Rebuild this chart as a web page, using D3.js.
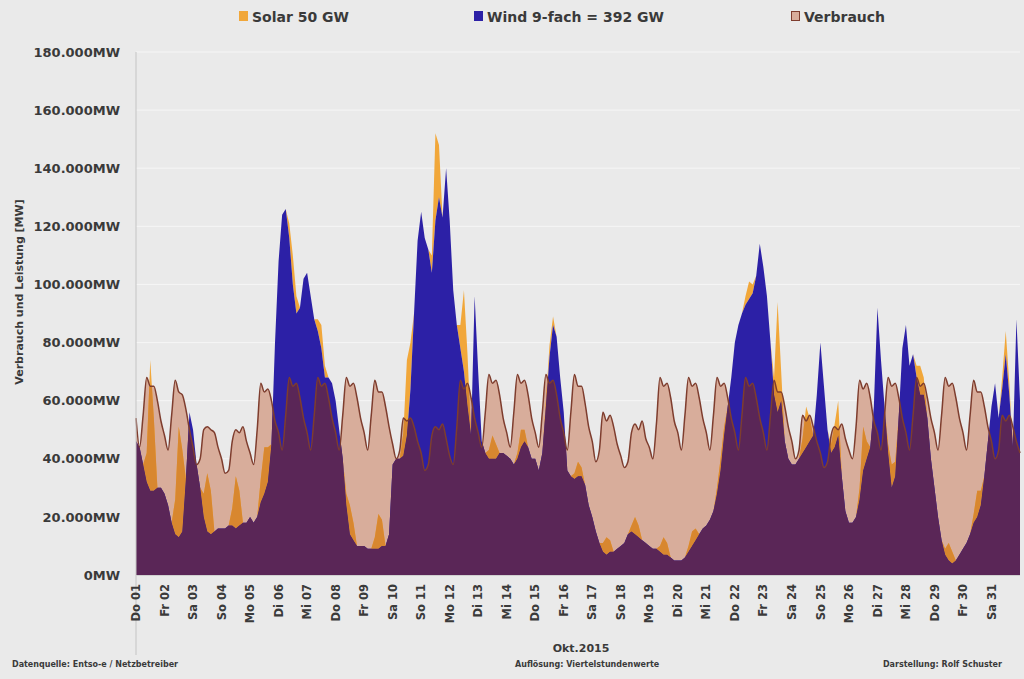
<!DOCTYPE html>
<html>
<head>
<meta charset="utf-8">
<script src="https://cdn.jsdelivr.net/npm/d3@7/dist/d3.min.js"></script>
<style>
body { margin: 0; background: #eaeaea; }
text { font-family: "DejaVu Sans", sans-serif; fill: #3a3a3a; }
.tick-y, .tick-x { font-weight: bold; }
</style>
</head>
<body>
<svg width="1024" height="679"></svg>
<script>

// Oktober 2015, 3-Stunden-Werte (0,3,6,9,12,15,18,21 Uhr), Werte in 1.000 MW
var dayLabels = ["Do 01","Fr 02","Sa 03","So 04","Mo 05","Di 06","Mi 07","Do 08","Fr 09","Sa 10",
  "So 11","Mo 12","Di 13","Mi 14","Do 15","Fr 16","Sa 17","So 18","Mo 19","Di 20","Mi 21",
  "Do 22","Fr 23","Sa 24","So 25","Mo 26","Di 27","Mi 28","Do 29","Fr 30","Sa 31"];

var yTicks = [0, 20, 40, 60, 80, 100, 120, 140, 160, 180];

var consumption = [
  54, 44, 55, 68, 65, 65, 60, 53,
  48, 43, 55, 67, 63, 62, 57, 50,
  44, 38, 40, 50, 51, 50, 49, 44,
  40, 35, 36, 46, 50, 49, 51, 46,
  42, 38, 50, 66, 63, 64, 60, 53,
  49, 43, 55, 68, 65, 66, 61, 54,
  49, 43, 55, 68, 65, 66, 61, 54,
  49, 43, 55, 68, 65, 66, 61, 54,
  49, 43, 55, 67, 63, 63, 58, 51,
  45, 40, 43, 54, 53, 54, 51, 46,
  42, 36, 38, 48, 51, 50, 52, 47,
  41, 38, 51, 67, 64, 66, 61, 54,
  49, 44, 56, 69, 66, 67, 62, 54,
  49, 44, 56, 69, 66, 67, 62, 54,
  49, 44, 56, 69, 66, 67, 62, 54,
  49, 43, 56, 69, 65, 65, 59, 51,
  46, 39, 43, 56, 53, 55, 51, 45,
  41, 37, 39, 49, 52, 50, 53, 47,
  44, 40, 52, 68, 65, 66, 61, 53,
  49, 43, 55, 68, 65, 66, 61, 54,
  49, 43, 55, 68, 65, 66, 61, 54,
  49, 43, 55, 68, 65, 66, 61, 54,
  49, 43, 55, 67, 63, 63, 58, 51,
  46, 40, 43, 55, 53, 55, 51, 46,
  42, 37, 39, 48, 51, 50, 52, 47,
  43, 40, 51, 67, 64, 66, 61, 53,
  49, 43, 55, 68, 65, 66, 61, 54,
  49, 43, 55, 68, 65, 66, 61, 54,
  49, 43, 55, 68, 65, 66, 61, 54,
  49, 43, 55, 67, 63, 63, 58, 51,
  46, 40, 43, 55, 53, 55, 51, 46,
  42
];

var wind = [
  46, 44, 38, 32, 29, 29, 30, 30,
  28, 24, 18, 14, 13, 15, 33, 56,
  50, 38, 30, 20, 15, 14, 15, 16,
  16, 16, 17, 17, 16, 17, 18, 18,
  20, 18, 20, 25, 28, 32, 45, 80,
  108, 124, 126, 116, 100, 90, 92, 102,
  104, 96, 88, 84, 78, 68, 68, 66,
  60, 50, 40, 24, 14, 12, 10, 10,
  10, 9, 9, 9, 9, 10, 10, 14,
  38, 40, 40, 41, 48, 64, 90, 115,
  125, 116, 112, 104, 122, 130, 123, 140,
  122, 98, 86, 78, 70, 58, 48, 96,
  70, 46, 42, 40, 40, 40, 42, 42,
  41, 40, 38, 40, 44, 46, 44, 40,
  40, 36, 42, 58, 75, 86, 82, 68,
  56, 36, 34, 33, 34, 34, 31, 24,
  20, 15, 11, 8, 7, 8, 8, 9,
  10, 11, 14, 15, 14, 13, 12, 11,
  10, 9, 9, 8, 7, 7, 6, 5,
  5, 5, 6, 8, 10, 12, 14, 16,
  17, 19, 22, 28, 36, 48, 58, 68,
  80, 86, 90, 93, 95, 97, 103, 114,
  106, 96, 80, 62, 56, 60, 46, 40,
  38, 38, 40, 42, 44, 46, 48, 62,
  80, 65, 50, 42, 44, 48, 34, 22,
  18, 18, 20, 26, 36, 40, 44, 58,
  92, 74, 58, 42, 30, 34, 55, 78,
  86, 72, 76, 68, 62, 62, 54, 40,
  30, 20, 12, 7, 5, 4, 5, 7,
  9, 11, 14, 18, 20, 24, 34, 46,
  58, 66, 54, 64, 76, 62, 44, 88,
  60
];

var solar = [
  0, 0, 0, 10, 45, 25, 0, 0,
  0, 0, 0, 12, 38, 28, 0, 0,
  0, 0, 0, 8, 20, 15, 0, 0,
  0, 0, 0, 6, 18, 12, 0, 0,
  0, 0, 0, 8, 16, 12, 0, 0,
  0, 0, 0, 5, 10, 6, 0, 0,
  0, 0, 0, 4, 8, 4, 0, 0,
  0, 0, 0, 4, 10, 6, 0, 0,
  0, 0, 0, 4, 12, 9, 0, 0,
  0, 0, 0, 8, 26, 16, 0, 0,
  0, 0, 0, 6, 30, 18, 0, 0,
  0, 0, 0, 8, 28, 18, 0, 0,
  0, 0, 0, 3, 8, 5, 0, 0,
  0, 0, 0, 2, 6, 4, 0, 0,
  0, 0, 0, 2, 4, 3, 0, 0,
  0, 0, 0, 2, 5, 3, 0, 0,
  0, 0, 0, 3, 6, 4, 0, 0,
  0, 0, 0, 2, 6, 4, 0, 0,
  0, 0, 0, 2, 6, 4, 0, 0,
  0, 0, 0, 2, 5, 4, 0, 0,
  0, 0, 0, 2, 4, 3, 0, 0,
  0, 0, 0, 3, 6, 3, 0, 0,
  0, 0, 0, 6, 38, 10, 0, 0,
  0, 0, 0, 5, 14, 8, 0, 0,
  0, 0, 0, 3, 8, 12, 0, 0,
  0, 0, 0, 4, 15, 6, 0, 0,
  0, 0, 0, 3, 8, 5, 0, 0,
  0, 0, 0, 4, 10, 6, 0, 0,
  0, 0, 0, 2, 6, 4, 0, 0,
  0, 0, 0, 3, 9, 5, 0, 0,
  0, 0, 0, 4, 8, 4, 0, 0,
  0
];

var svg = d3.select("svg"),
    margin = {top: 52, right: 4, bottom: 104, left: 136},
    width = +svg.attr("width") - margin.left - margin.right,
    height = +svg.attr("height") - margin.top - margin.bottom,
    g = svg.append("g").attr("transform", "translate(" + margin.left + "," + margin.top + ")");

svg.insert("rect", ":first-child")
    .attr("width", 1024).attr("height", 679).attr("fill", "#eaeaea");

var rows = consumption.map(function(c, i) {
  return {h: i * 3, c: c, w: wind[i], s: solar[i]};
});

var x = d3.scaleLinear().domain([0, 31 * 24]).range([0, width]);
var y = d3.scaleLinear().domain([0, 180]).range([height, 0]);

// Gitterlinien
g.append("g")
    .selectAll("line")
    .data(yTicks.slice(1))
  .enter().append("line")
    .attr("x1", 0).attr("x2", width)
    .attr("y1", function(d) { return y(d); })
    .attr("y2", function(d) { return y(d); })
    .attr("stroke", "#f6f6f6")
    .attr("stroke-width", 1);

var areaC = d3.area()
    .x(function(d) { return x(d.h); })
    .y0(height)
    .y1(function(d) { return y(d.c); })
    .curve(d3.curveMonotoneX);

var lineC = d3.line()
    .x(function(d) { return x(d.h); })
    .y(function(d) { return y(d.c); })
    .curve(d3.curveMonotoneX);

var areaW = d3.area()
    .x(function(d) { return x(d.h); })
    .y0(height)
    .y1(function(d) { return y(d.w); });

var areaS = d3.area()
    .x(function(d) { return x(d.h); })
    .y0(function(d) { return y(d.w); })
    .y1(function(d) { return y(d.w + d.s); });

g.append("clipPath")
    .attr("id", "clipC")
  .append("path")
    .attr("d", areaC(rows));

g.append("path").datum(rows).attr("d", areaC).attr("fill", "#d8ad9b");
g.append("path").datum(rows).attr("d", areaS).attr("fill", "#f1a73a");
g.append("path").datum(rows).attr("d", areaW).attr("fill", "#2c20a6");

// Anteil innerhalb des Verbrauchs
var inside = g.append("g").attr("clip-path", "url(#clipC)");
inside.append("path").datum(rows).attr("d", areaS).attr("fill", "#d8872f");
inside.append("path").datum(rows).attr("d", areaW).attr("fill", "#5a2657");

g.append("path").datum(rows)
    .attr("d", lineC)
    .attr("fill", "none")
    .attr("stroke", "#7e3d2e")
    .attr("stroke-width", 1.5);

// Achsen
g.append("line")
    .attr("x1", 0).attr("x2", 0)
    .attr("y1", 0).attr("y2", height + 80)
    .attr("stroke", "#c4c4c4");

g.append("line")
    .attr("x1", 0).attr("x2", width)
    .attr("y1", height + 0.5).attr("y2", height + 0.5)
    .attr("stroke", "#d0d0d0");

g.append("g")
    .selectAll("text")
    .data(yTicks)
  .enter().append("text")
    .attr("class", "tick-y")
    .attr("x", -16)
    .attr("y", function(d) { return y(d); })
    .attr("dy", "0.36em")
    .attr("text-anchor", "end")
    .style("font-size", "13px")
    .text(function(d) { return d === 0 ? "0MW" : d + ".000MW"; });

g.append("g")
    .selectAll("text")
    .data(dayLabels)
  .enter().append("text")
    .attr("class", "tick-x")
    .attr("transform", function(d, i) { return "translate(" + x(i * 24) + "," + (height + 9) + ") rotate(-90)"; })
    .attr("dy", "0.36em")
    .attr("text-anchor", "end")
    .style("font-size", "11.5px")
    .text(function(d) { return d; });

svg.append("text")
    .attr("transform", "translate(23,292) rotate(-90)")
    .attr("text-anchor", "middle")
    .style("font-size", "11px")
    .style("font-weight", "bold")
    .text("Verbrauch und Leistung  [MW]");

svg.append("text")
    .attr("x", 581).attr("y", 652)
    .attr("text-anchor", "middle")
    .style("font-size", "11px")
    .style("font-weight", "bold")
    .text("Okt.2015");

// Legende
var legend = [
  {label: "Solar 50 GW", fill: "#f1a73a", stroke: "#f1a73a", x: 239},
  {label: "Wind 9-fach = 392 GW", fill: "#2c20a6", stroke: "#2c20a6", x: 474},
  {label: "Verbrauch", fill: "#d8ad9b", stroke: "#7e3d2e", x: 791}
];
var lg = svg.append("g").selectAll("g").data(legend).enter().append("g")
    .attr("transform", function(d) { return "translate(" + d.x + ",0)"; });
lg.append("rect")
    .attr("x", 0.5).attr("y", 11.5).attr("width", 8).attr("height", 9)
    .attr("fill", function(d) { return d.fill; })
    .attr("stroke", function(d) { return d.stroke; });
lg.append("text")
    .attr("x", 13).attr("y", 22)
    .style("font-size", "14px")
    .style("font-weight", "bold")
    .text(function(d) { return d.label; });

// Fußzeile
var foot = [
  {t: "Datenquelle: Entso-e  / Netzbetreiber", x: 12, a: "start"},
  {t: "Auflösung: Viertelstundenwerte", x: 515, a: "start"},
  {t: "Darstellung: Rolf Schuster", x: 1002, a: "end"}
];
svg.append("g").selectAll("text").data(foot).enter().append("text")
    .attr("x", function(d) { return d.x; })
    .attr("y", 667)
    .attr("text-anchor", function(d) { return d.a; })
    .style("font-size", "8px")
    .style("font-weight", "bold")
    .text(function(d) { return d.t; });

</script>
</body>
</html>
